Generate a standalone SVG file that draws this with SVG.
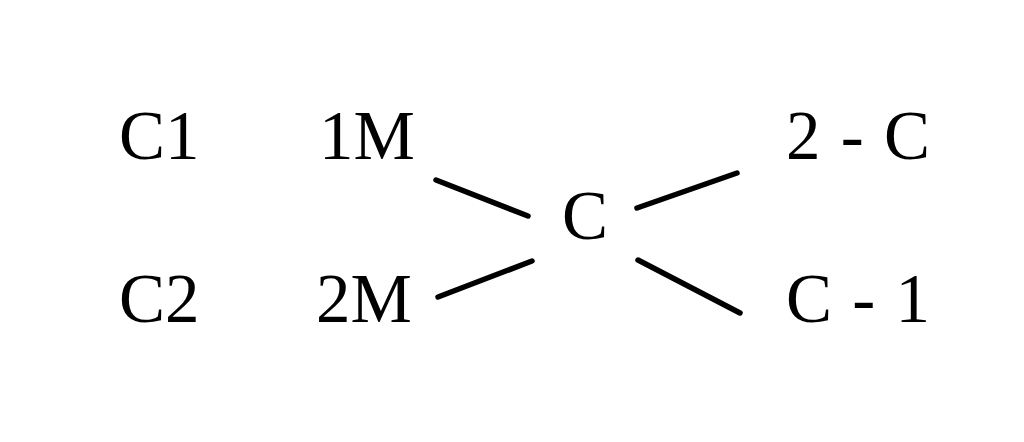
<svg xmlns="http://www.w3.org/2000/svg" width="1024" height="442" viewBox="0 0 1024 442">
<style>
text{font-family:"Liberation Serif","Times New Roman",serif;font-size:69px;fill:#000}
.w{word-spacing:3px}
.c line{stroke:#000;stroke-width:5.5;stroke-linecap:round}
</style>
<rect width="1024" height="442" fill="#fff"/>
<g id="n-c1"><text x="119" y="159">C1</text></g>
<g id="n-c2"><text x="119" y="322">C2</text></g>
<g id="n-1m"><text x="319" y="159">1M</text></g>
<g id="n-2m"><text x="316" y="322">2M</text></g>
<g id="n-c"><text x="562" y="239">C</text></g>
<g id="n-2c"><text class="w" x="786" y="159">2 - C</text></g>
<g id="n-c-1"><text class="w" x="786" y="322">C - 1</text></g>
<g class="c" id="connectors">
<line x1="436" y1="180" x2="528" y2="216"/>
<line x1="438" y1="297" x2="532" y2="261"/>
<line x1="637" y1="208" x2="737" y2="173"/>
<line x1="638" y1="260" x2="740" y2="313"/>
</g>
</svg>
